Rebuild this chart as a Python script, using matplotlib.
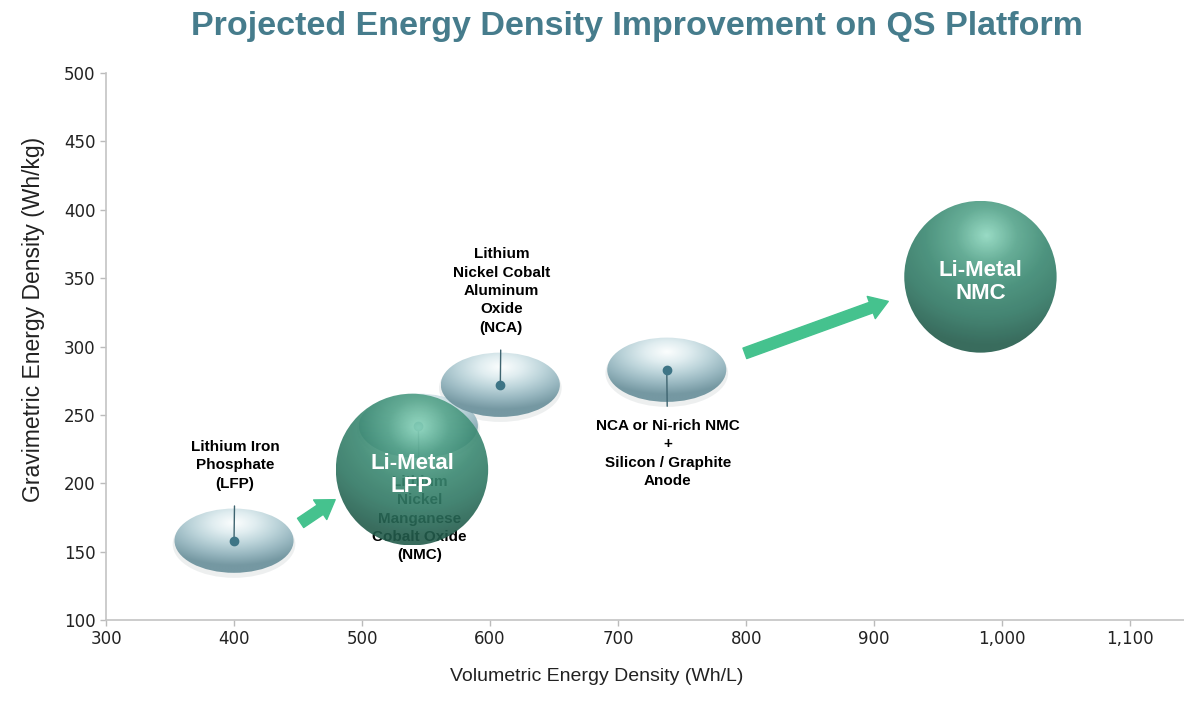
import matplotlib
matplotlib.use('Agg')
import matplotlib.pyplot as plt
import numpy as np
from matplotlib.patches import Ellipse
from matplotlib.colors import LinearSegmentedColormap
from matplotlib.ticker import FuncFormatter

# Today's chemistries (glassy lenses)
chem_names = ['LFP', 'NMC', 'NCA', 'NCA/Ni-rich + Si']
chem_vol = [400, 544, 608, 738]     # Wh/L
chem_grav = [158, 242, 272, 283]    # Wh/kg
chem_labels = [
    'Lithium Iron\nPhosphate\n(LFP)',
    'Lithium\nNickel\nManganese\nCobalt Oxide\n(NMC)',
    'Lithium\nNickel Cobalt\nAluminum\nOxide\n(NCA)',
    'NCA or Ni-rich NMC\n+\nSilicon / Graphite\nAnode',
]
chem_label_side = ['above', 'below', 'above', 'below']

# Projected lithium-metal cells (green spheres)
li_vol = [539, 983]
li_grav = [210, 351]
li_labels = ['Li-Metal\nLFP', 'Li-Metal\nNMC']

# Improvement arrows (start -> end)
arrow_start_vol = [452, 799]
arrow_start_grav = [171, 295]
arrow_end_vol = [479, 911]
arrow_end_grav = [188, 333]

x_ticks = [300, 400, 500, 600, 700, 800, 900, 1000, 1100]
y_ticks = [100, 150, 200, 250, 300, 350, 400, 450, 500]

FONT = 'Liberation Sans'
lens_cmap = LinearSegmentedColormap.from_list(
    'lens', ['#FCFEFE', '#E0EDF0', '#BCD4DA', '#98B7C0', '#7598A2'])
ball_cmap = LinearSegmentedColormap.from_list(
    'ball', ['#8DD7BE', '#55A48B', '#3A8871', '#2F7662', '#225B4B'])


def shaded_ellipse(ax, cx, cy, w, h, cmap, hl, z, alpha=1.0, vmax=1.45):
    """Ellipse patch filled with a radial gradient (highlight at hl in unit coords)."""
    e = Ellipse((cx, cy), w, h, facecolor='none', edgecolor='none', zorder=z)
    ax.add_patch(e)
    n = 160
    u, v = np.meshgrid(np.linspace(-1, 1, n), np.linspace(-1, 1, n))
    r = np.sqrt((u - hl[0]) ** 2 + ((v - hl[1]) * 1.1) ** 2)
    im = ax.imshow(r, cmap=cmap, vmin=0, vmax=vmax, origin='lower',
                   extent=(cx - w / 2, cx + w / 2, cy - h / 2, cy + h / 2),
                   aspect='auto', zorder=z, alpha=alpha, interpolation='bilinear')
    im.set_clip_path(e)
    return e


fig = plt.figure(figsize=(11.84, 7.08), dpi=100)
ax = fig.add_axes([106 / 1184, 1 - 620 / 708, 1 - 106 / 1184, (620 - 73) / 708])

ax.set_xlim(300, 1142)
ax.set_ylim(100, 500)

# sizes in data units
LENS_W, LENS_H = 93, 47
BALL_W, BALL_H = 119, 111

for vx, gy in zip(chem_vol, chem_grav):
    shadow = Ellipse((vx, gy - 2.5), LENS_W * 1.03, LENS_H * 1.05,
                     facecolor='#8a9799', edgecolor='none', alpha=0.15, zorder=1.5)
    ax.add_patch(shadow)
    shaded_ellipse(ax, vx, gy, LENS_W, LENS_H, lens_cmap, hl=(0.0, 0.55), z=2)

ax.plot(chem_vol, chem_grav, 'o', color='#3E7586', ms=6, zorder=4)

for vx, gy, lab, side in zip(chem_vol, chem_grav, chem_labels, chem_label_side):
    if side == 'above':
        off, va, gap = 50, 'bottom', 9
    else:
        off, va, gap = -49, 'top', 7
    ax.annotate(lab, xy=(vx, gy), xytext=(1, off), textcoords='offset pixels',
                ha='center', va=va, fontsize=11, fontweight='bold', family=FONT,
                color='black', linespacing=1.4, zorder=3,
                arrowprops=dict(arrowstyle='-', color='#3E6470', lw=1.0,
                                shrinkA=gap, shrinkB=0))

for vx, gy, lab in zip(li_vol, li_grav, li_labels):
    shaded_ellipse(ax, vx, gy, BALL_W, BALL_H, ball_cmap, hl=(0.08, 0.55),
                   z=5, alpha=0.9, vmax=1.6)
    ax.text(vx, gy - 4, lab, ha='center', va='center', fontsize=16,
            fontweight='bold', family=FONT, color='white', linespacing=1.15, zorder=6)

for sx, sy, ex, ey in zip(arrow_start_vol, arrow_start_grav, arrow_end_vol, arrow_end_grav):
    ax.annotate('', xy=(ex, ey), xytext=(sx, sy),
                arrowprops=dict(arrowstyle='simple,head_length=1.3,head_width=1.7,tail_width=0.8',
                                color='#45C28E', shrinkA=0, shrinkB=0, mutation_scale=10),
                zorder=4)

ax.set_xticks(x_ticks)
ax.set_yticks(y_ticks)
ax.xaxis.set_major_formatter(FuncFormatter(lambda v, p: f'{v:,.0f}'))
ax.tick_params(axis='both', colors='#BBBBBB', labelcolor='#222222',
               labelsize=12, length=4, width=1, direction='out')
for s in ['top', 'right']:
    ax.spines[s].set_visible(False)
for s in ['left', 'bottom']:
    ax.spines[s].set_color('#C4C4C4')
    ax.spines[s].set_linewidth(1.2)

ax.set_xlabel('Volumetric Energy Density (Wh/L)', fontsize=14, color='#222222', family=FONT)
ax.xaxis.set_label_coords(0.4555, -0.088)
ax.set_ylabel('Gravimetric Energy Density (Wh/kg)', fontsize=16.5, color='#222222', family=FONT)
ax.yaxis.set_label_coords(-0.057, 0.55)

fig.text(0.538, 0.962, 'Projected Energy Density Improvement on QS Platform',
         ha='center', va='center', fontsize=24.5, fontweight='bold',
         family=FONT, color='#467C8C')

fig.savefig('out.png', dpi=100)
